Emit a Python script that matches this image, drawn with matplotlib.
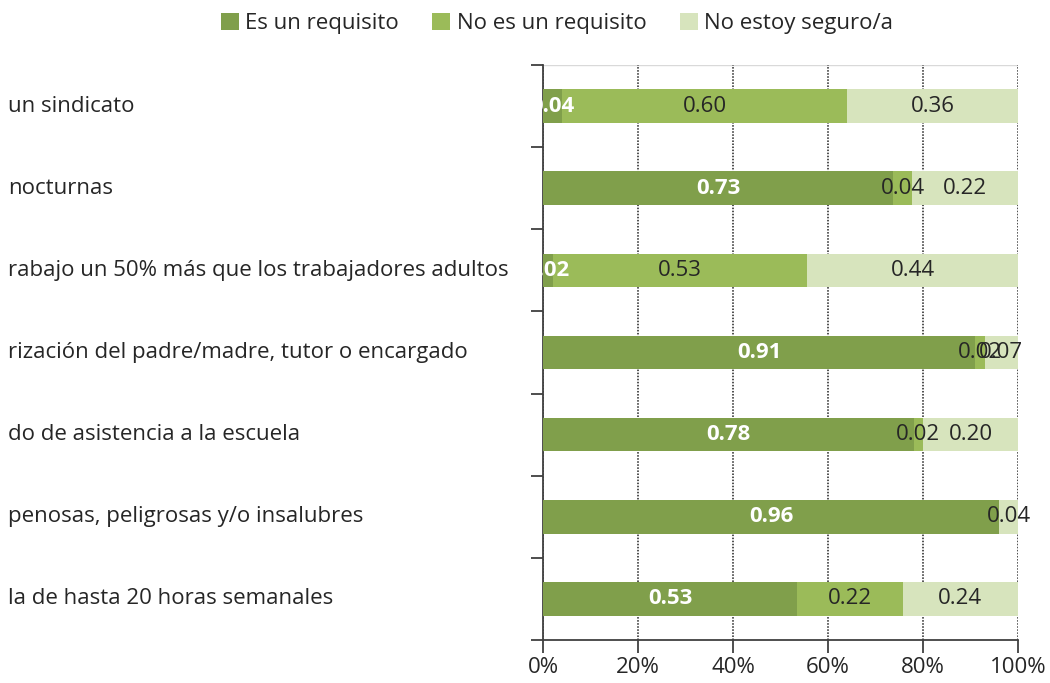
import matplotlib.pyplot as plt
import numpy as np

plt.rcParams['font.family'] = ['Open Sans', 'DejaVu Sans']

# categories listed top to bottom as in the picture (left side is cut off)
categories = [
    "un sindicato",
    "nocturnas",
    "rabajo un 50% más que los trabajadores adultos",
    "rización del padre/madre, tutor o encargado",
    "do de asistencia a la escuela",
    "penosas, peligrosas y/o insalubres",
    "la de hasta 20 horas semanales",
]
es_requisito = [0.04, 0.73, 0.02, 0.91, 0.78, 0.96, 0.53]
no_requisito = [0.60, 0.04, 0.53, 0.02, 0.02, 0.00, 0.22]
no_seguro = [0.36, 0.22, 0.44, 0.07, 0.20, 0.04, 0.24]
series_names = ["Es un requisito", "No es un requisito", "No estoy seguro/a"]
colors = ["#809F4B", "#9BBB59", "#D7E4BD"]
text_colors = ["white", "#262626", "#262626"]
fs = 16

fig = plt.figure(figsize=(10.5, 6.83), dpi=100)
ax = fig.add_axes([543 / 1050, 1 - 640 / 683, 475 / 1050, 575 / 683])

data = np.array([es_requisito, no_requisito, no_seguro])
shares = data / data.sum(axis=0)
n = len(categories)
y = np.arange(n)[::-1]

left = np.zeros(n)
for i in range(3):
    bars = ax.barh(y, shares[i], left=left, height=0.41, color=colors[i],
                   label=series_names[i], zorder=3)
    for b, v in zip(bars, data[i]):
        if v <= 0:
            continue
        ax.text(b.get_x() + b.get_width() / 2, b.get_y() + b.get_height() / 2,
                f"{v:.2f}", ha='center', va='center', fontsize=fs,
                color=text_colors[i], fontweight='bold' if i == 0 else 'normal',
                zorder=4)
    left += shares[i]

ax.set_xlim(0, 1)
ax.set_ylim(-0.5, n - 0.5)
ax.set_xticks(np.arange(0, 1.01, 0.2))
ax.set_xticklabels([f"{int(t * 100)}%" for t in np.arange(0, 1.01, 0.2)],
                   fontsize=fs, color="#262626")
ax.set_yticks(np.arange(-0.5, n, 1))
ax.set_yticklabels([])
ax.tick_params(axis='both', direction='out', length=9, width=1.3, color="#404040")
ax.xaxis.grid(True, linestyle=(0, (1, 1)), color="#202020", linewidth=1.1, zorder=0)

for side in ['top', 'right']:
    ax.spines[side].set_visible(False)
for side in ['left', 'bottom']:
    ax.spines[side].set_color("#404040")
    ax.spines[side].set_linewidth(1.3)
ax.axhline(n - 0.5, color="#d9d9d9", linewidth=1, zorder=1)

for yy, name in zip(y, categories):
    fig.text(8 / 1050, ax.transData.transform((0, yy))[1] / fig.bbox.height,
             name, ha='left', va='center', fontsize=fs, color="#262626")

fig.legend(loc='upper center', bbox_to_anchor=(557 / 1050, 1.01), ncol=3,
           frameon=False, fontsize=fs, handlelength=0.8, handleheight=0.8,
           handletextpad=0.3, columnspacing=1.5, labelcolor="#262626")

fig.savefig("out.png", dpi=100)
